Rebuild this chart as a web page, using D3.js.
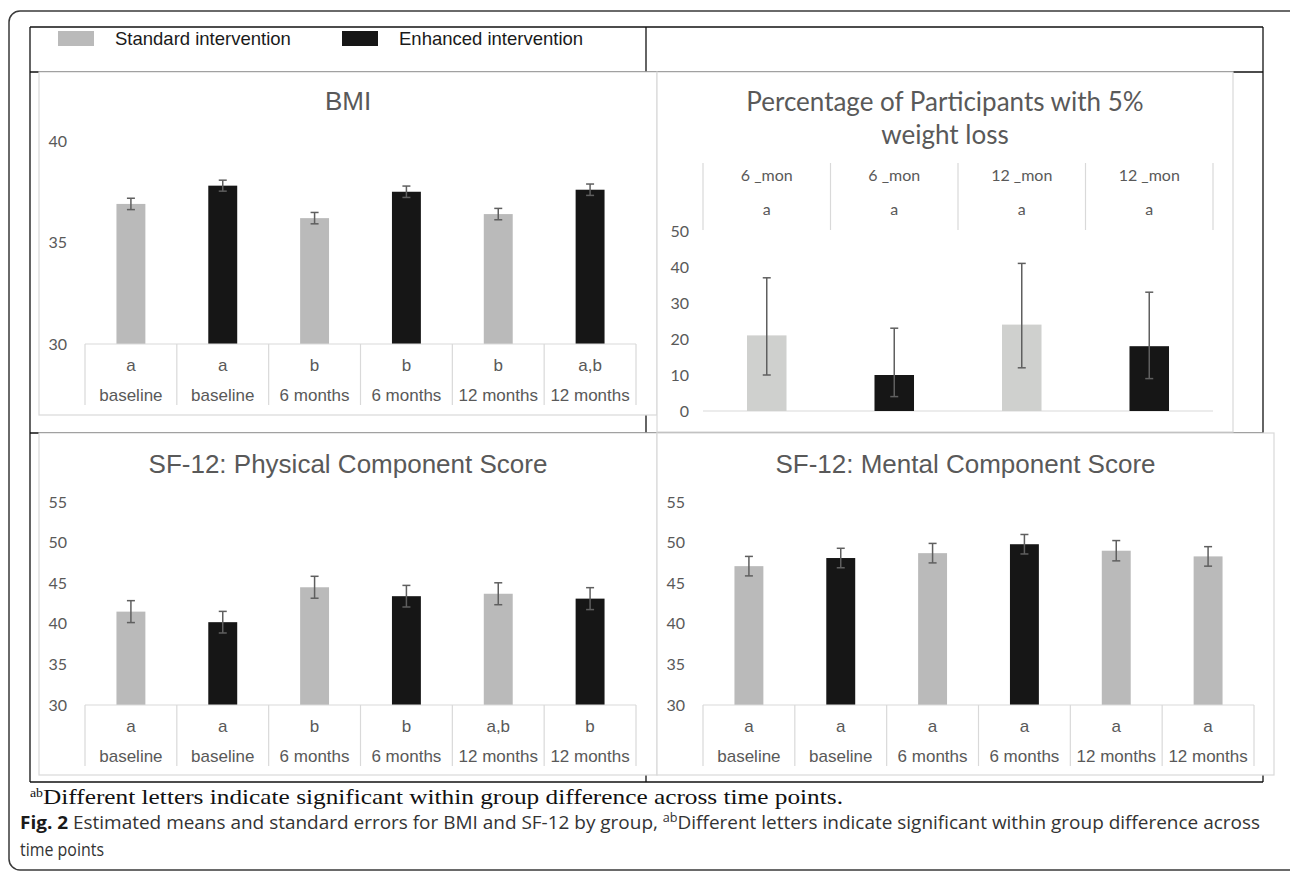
<!DOCTYPE html>
<html>
<head>
<meta charset="utf-8">
<script src="https://cdn.jsdelivr.net/npm/d3@7"></script>
<style>
  body { margin: 0; background: #fff; }
  svg { display: block; }
</style>
</head>
<body>
<div id="chart"></div>
<script>
// ---- data ----
const legendLabels = ['Standard intervention', 'Enhanced intervention'];
const timeLabels = ['baseline', 'baseline', '6 months', '6 months', '12 months', '12 months'];
const bmiGroups = ['std', 'enh', 'std', 'enh', 'std', 'enh'];
const pcsGroups = ['std', 'enh', 'std', 'enh', 'std', 'enh'];
const mcsGroups = ['std', 'enh', 'std', 'enh', 'std', 'std'];

const bmiMeans = [36.9, 37.8, 36.2, 37.5, 36.4, 37.6];
const bmiSE = [0.28, 0.27, 0.28, 0.28, 0.28, 0.28];
const bmiLetters = ['a', 'a', 'b', 'b', 'b', 'a,b'];
const bmiTicks = [30, 35, 40];

const pcsMeans = [41.5, 40.2, 44.5, 43.4, 43.7, 43.1];
const pcsSE = [1.35, 1.33, 1.35, 1.33, 1.35, 1.35];
const pcsLetters = ['a', 'a', 'b', 'b', 'a,b', 'b'];

const mcsMeans = [47.1, 48.1, 48.7, 49.8, 49.0, 48.3];
const mcsSE = [1.2, 1.2, 1.2, 1.2, 1.25, 1.2];
const mcsLetters = ['a', 'a', 'a', 'a', 'a', 'a'];
const sfTicks = [30, 35, 40, 45, 50, 55];

const pctLabels = ['6 _mon', '6 _mon', '12 _mon', '12 _mon'];
const pctLetters = ['a', 'a', 'a', 'a'];
const pctGroups = ['std', 'enh', 'std', 'enh'];
const pctValues = [21, 10, 24, 18];
const pctLow = [10, 4, 12, 9];
const pctHigh = [37, 23, 41, 33];
const pctTicks = [0, 10, 20, 30, 40, 50];

const colors = {std: '#bababa', enh: '#161616', pctStd: '#cfd0ce'};
const textGrey = '#595959';
const lineGrey = '#d9d9d9';
const arial = '"Liberation Sans", Arial, sans-serif';
const calibri = 'Lato, "Open Sans", sans-serif';

const svg = d3.select('#chart').append('svg')
  .attr('width', 1290)
  .attr('height', 877);

// outer rounded frame
svg.append('rect')
  .attr('x', 9).attr('y', 11)
  .attr('width', 1295).attr('height', 859)
  .attr('rx', 11)
  .attr('fill', 'none')
  .attr('stroke', '#3a3a3a')
  .attr('stroke-width', 1.5);

// table grid behind the chart images
const grid = svg.append('g').attr('stroke', '#111').attr('stroke-width', 1.3);
[[30, 27, 1263, 27], [30, 27, 30, 782], [1263, 27, 1263, 782], [30, 782, 1263, 782],
 [646, 27, 646, 782], [30, 72, 1263, 72], [30, 433, 1263, 433]].forEach(l => {
  grid.append('line').attr('x1', l[0]).attr('y1', l[1]).attr('x2', l[2]).attr('y2', l[3]);
});

// legend row
const legend = svg.append('g');
legendLabels.forEach((label, i) => {
  const x = i === 0 ? 58 : 342;
  legend.append('rect')
    .attr('x', x).attr('y', 31)
    .attr('width', 36).attr('height', 15)
    .attr('fill', i === 0 ? colors.std : colors.enh);
  legend.append('text')
    .attr('x', x + 57).attr('y', 45)
    .attr('font-family', arial)
    .attr('font-size', 18.5)
    .attr('fill', '#1a1a1a')
    .text(label);
});

function panelBox(x0, y0, x1, y1) {
  svg.append('rect')
    .attr('x', x0).attr('y', y0)
    .attr('width', x1 - x0).attr('height', y1 - y0)
    .attr('fill', '#fff')
    .attr('stroke', lineGrey)
    .attr('stroke-width', 1.2);
}

function drawYAxis(g, y, ticks, x) {
  const axis = g.append('g')
    .attr('transform', `translate(${x},0)`)
    .call(d3.axisLeft(y).tickValues(ticks).tickSize(0).tickPadding(0));
  axis.select('.domain').remove();
  axis.selectAll('text')
    .attr('font-family', calibri)
    .attr('font-size', 16)
    .attr('fill', textGrey);
}

function drawErrorBar(g, cx, yTop, yBottom) {
  const cap = 4;
  g.append('line').attr('x1', cx).attr('x2', cx).attr('y1', yTop).attr('y2', yBottom);
  g.append('line').attr('x1', cx - cap).attr('x2', cx + cap).attr('y1', yTop).attr('y2', yTop);
  g.append('line').attr('x1', cx - cap).attr('x2', cx + cap).attr('y1', yBottom).attr('y2', yBottom);
}

function drawBarPanel(cfg) {
  panelBox(...cfg.box);
  const g = svg.append('g');
  const [bx0, , bx1] = cfg.box;

  g.append('text')
    .attr('x', (bx0 + bx1) / 2).attr('y', cfg.titleY)
    .attr('text-anchor', 'middle')
    .attr('dy', '0.35em')
    .attr('font-family', arial)
    .attr('font-size', 26)
    .attr('fill', textGrey)
    .text(cfg.title);

  const x = d3.scaleBand().domain(d3.range(cfg.means.length)).range([cfg.left, cfg.right]);
  const y = d3.scaleLinear().domain(cfg.domain).range(cfg.range);
  const barW = x.bandwidth() * 0.315;
  const y0 = y(cfg.domain[0]);

  drawYAxis(g, y, cfg.ticks, cfg.tickX);

  g.selectAll('rect.bar')
    .data(cfg.means)
    .enter()
    .append('rect')
    .attr('class', 'bar')
    .attr('x', (d, i) => x(i) + (x.bandwidth() - barW) / 2)
    .attr('width', barW)
    .attr('y', d => y(d))
    .attr('height', d => y0 - y(d))
    .attr('fill', (d, i) => colors[cfg.groups[i]]);

  const eb = g.append('g').attr('stroke', '#5f5f5f').attr('stroke-width', 1.5);
  cfg.means.forEach((m, i) => {
    drawErrorBar(eb, x(i) + x.bandwidth() / 2, y(m + cfg.se[i]), y(m - cfg.se[i]));
  });

  // category table under the plot
  const tbl = g.append('g').attr('stroke', lineGrey).attr('stroke-width', 1.2);
  tbl.append('line').attr('x1', cfg.left).attr('x2', cfg.right).attr('y1', y0).attr('y2', y0);
  d3.range(cfg.means.length + 1).forEach(i => {
    const xx = cfg.left + i * x.bandwidth();
    tbl.append('line').attr('x1', xx).attr('x2', xx).attr('y1', y0).attr('y2', y0 + 61);
  });
  const rows = [[cfg.letters, 21], [timeLabels, 51]];
  rows.forEach(([labels, off]) => {
    g.selectAll(null)
      .data(labels)
      .enter()
      .append('text')
      .attr('x', (d, i) => x(i) + x.bandwidth() / 2)
      .attr('y', y0 + off)
      .attr('dy', '0.35em')
      .attr('text-anchor', 'middle')
      .attr('font-family', arial)
      .attr('font-size', 17)
      .attr('fill', textGrey)
      .text(d => d);
  });
}

function drawPercentPanel() {
  const box = [657, 72, 1233, 432];
  panelBox(...box);
  const g = svg.append('g');
  const cx = (box[0] + box[2]) / 2;
  ['Percentage of Participants with 5%', 'weight loss'].forEach((t, i) => {
    g.append('text')
      .attr('x', cx).attr('y', 102 + i * 33)
      .attr('dy', '0.35em')
      .attr('text-anchor', 'middle')
      .attr('font-family', calibri)
      .attr('font-size', 26)
      .attr('fill', textGrey)
      .text(t);
  });

  const x = d3.scaleBand().domain(d3.range(pctValues.length)).range([703, 1213]);
  const y = d3.scaleLinear().domain([0, 50]).range([411, 231]);
  const barW = x.bandwidth() * 0.31;

  drawYAxis(g, y, pctTicks, 689);

  g.append('line')
    .attr('x1', 703).attr('x2', 1213)
    .attr('y1', y(0)).attr('y2', y(0))
    .attr('stroke', lineGrey).attr('stroke-width', 1.2);

  g.selectAll('rect.bar')
    .data(pctValues)
    .enter()
    .append('rect')
    .attr('x', (d, i) => x(i) + (x.bandwidth() - barW) / 2)
    .attr('width', barW)
    .attr('y', d => y(d))
    .attr('height', d => y(0) - y(d))
    .attr('fill', (d, i) => pctGroups[i] === 'std' ? colors.pctStd : colors.enh);

  const eb = g.append('g').attr('stroke', '#5f5f5f').attr('stroke-width', 1.5);
  pctValues.forEach((v, i) => {
    drawErrorBar(eb, x(i) + x.bandwidth() / 2, y(pctHigh[i]), y(pctLow[i]));
  });

  // category axis sits on top of this chart
  const tbl = g.append('g').attr('stroke', lineGrey).attr('stroke-width', 1.2);
  d3.range(pctValues.length + 1).forEach(i => {
    const xx = 703 + i * x.bandwidth();
    tbl.append('line').attr('x1', xx).attr('x2', xx).attr('y1', 163).attr('y2', 230);
  });
  [[pctLabels, 175], [pctLetters, 209]].forEach(([labels, yy]) => {
    g.selectAll(null)
      .data(labels)
      .enter()
      .append('text')
      .attr('x', (d, i) => x(i) + x.bandwidth() / 2)
      .attr('y', yy)
      .attr('dy', '0.35em')
      .attr('text-anchor', 'middle')
      .attr('font-family', calibri)
      .attr('font-size', 16)
      .attr('fill', textGrey)
      .text(d => d);
  });
}

drawBarPanel({
  box: [39, 72, 657, 415], title: 'BMI', titleY: 101,
  left: 85, right: 636, domain: [30, 40], range: [344, 141],
  ticks: bmiTicks, tickX: 67,
  means: bmiMeans, se: bmiSE, letters: bmiLetters, groups: bmiGroups
});
drawPercentPanel();
drawBarPanel({
  box: [39, 433, 657, 775], title: 'SF-12: Physical Component Score', titleY: 464,
  left: 85, right: 636, domain: [30, 55], range: [705, 502],
  ticks: sfTicks, tickX: 67,
  means: pcsMeans, se: pcsSE, letters: pcsLetters, groups: pcsGroups
});
drawBarPanel({
  box: [657, 433, 1274, 775], title: 'SF-12: Mental Component Score', titleY: 464,
  left: 703, right: 1254, domain: [30, 55], range: [705, 502],
  ticks: sfTicks, tickX: 685,
  means: mcsMeans, se: mcsSE, letters: mcsLetters, groups: mcsGroups
});

// footnote and figure caption
const note = svg.append('text')
  .attr('x', 30).attr('y', 804)
  .attr('font-family', '"Liberation Serif", "Times New Roman", serif')
  .attr('font-size', 22)
  .attr('fill', '#111')
  .attr('textLength', 813)
  .attr('lengthAdjust', 'spacingAndGlyphs');
note.append('tspan').attr('font-size', 12).attr('dy', -7).text('ab');
note.append('tspan').attr('dy', 7).text('Different letters indicate significant within group difference across time points.');

const caption = svg.append('text')
  .attr('x', 20).attr('y', 829)
  .attr('font-family', '"Open Sans", sans-serif')
  .attr('font-size', 18)
  .attr('fill', '#333')
  .attr('textLength', 1240)
  .attr('lengthAdjust', 'spacingAndGlyphs');
caption.append('tspan').attr('font-weight', 'bold').attr('fill', '#1a1a1a').text('Fig. 2');
caption.append('tspan').text(' Estimated means and standard errors for BMI and SF-12 by group, ');
caption.append('tspan').attr('font-size', 12).attr('dy', -7).text('ab');
caption.append('tspan').attr('dy', 7).text('Different letters indicate significant within group difference across');

svg.append('text')
  .attr('x', 20).attr('y', 856)
  .attr('font-family', '"Open Sans", sans-serif')
  .attr('font-size', 18)
  .attr('fill', '#333')
  .attr('textLength', 84)
  .attr('lengthAdjust', 'spacingAndGlyphs')
  .text('time points');
</script>
</body>
</html>
